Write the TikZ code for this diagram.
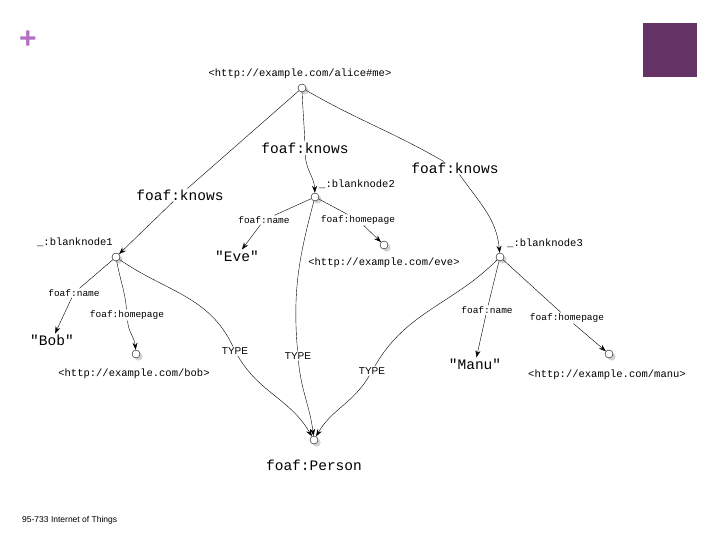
\documentclass[tikz,border=0pt]{standalone}
\usepackage{fontspec}
\setmainfont{Liberation Sans}
\newfontfamily\monofont{Liberation Mono}
\usetikzlibrary{arrows.meta,shadows}
\definecolor{plum}{HTML}{663366}
\definecolor{lilac}{HTML}{B46EC4}
\begin{document}
\begin{tikzpicture}[x=1pt,y=-1pt,>={Stealth[length=7pt,width=5pt]}]

% Styles
\tikzset{
  res/.style={draw, circle, fill=white, inner sep=0pt, minimum size=8pt, drop shadow={opacity=0.35}},
  big/.style={font=\monofont\fontsize{14.5}{14.5}\selectfont, inner sep=1pt},
  small/.style={font=\monofont\fontsize{9.5}{9.5}\selectfont, inner sep=1pt},
  uri/.style={font=\monofont\fontsize{10.5}{10.5}\selectfont, inner sep=1pt},
  typ/.style={font=\fontsize{10}{10}\selectfont, inner sep=1pt},
  edge/.style={thin}
}
\useasboundingbox (0,0) rectangle (720,540);

% Slide decorations
\fill[plum] (643,23) rectangle (697,77);
\node[font=\bfseries\fontsize{30}{30}\selectfont, text=lilac] (plus) at (28,40) {+};
\node[font=\fontsize{8.5}{8.5}\selectfont, anchor=west, inner sep=0pt] (foot) at (22,520) {95-733 Internet of Things};

% Resource nodes
\node[res] (alice) at (302,88) {};
\node[res] (bn2) at (315,197) {};
\node[res] (bn1) at (116,257) {};
\node[res] (bn3) at (500,257) {};
\node[res] (evehp) at (384,245) {};
\node[res] (bobhp) at (136,354) {};
\node[res] (manuhp) at (609,354) {};
\node[res] (person) at (314,440) {};

% Node texts
\node[uri] (alicet) at (300,74) {<http://example.com/alice\#me>};
\node[uri, anchor=west] (bn2t) at (318,184) {\_:blanknode2};
\node[uri, anchor=east] (bn1t) at (114,242) {\_:blanknode1};
\node[uri, anchor=west] (bn3t) at (506,243) {\_:blanknode3};
\node[uri] (evet) at (384,263) {<http://example.com/eve>};
\node[uri] (bobt) at (134,374) {<http://example.com/bob>};
\node[uri] (manut) at (607,375) {<http://example.com/manu>};
\node[big] (persont) at (314,465) {foaf:Person};

% Literals
\node[big] (eve) at (237,256) {"Eve"};
\node[big] (bob) at (52,340) {"Bob"};
\node[big] (manu) at (475,364) {"Manu"};

% Edge labels
\node[big] (k1) at (180,195) {foaf:knows};
\node[big] (k2) at (305,148) {foaf:knows};
\node[big] (k3) at (455,168) {foaf:knows};
\node[small] (n2) at (264,220) {foaf:name};
\node[small] (h2) at (358,220) {foaf:homepage};
\node[small] (n1) at (74,293) {foaf:name};
\node[small] (h1) at (127,315) {foaf:homepage};
\node[small] (n3) at (487,310) {foaf:name};
\node[small] (h3) at (567,318) {foaf:homepage};
\node[typ] (t1) at (235,351) {TYPE};
\node[typ] (t2) at (298,356) {TYPE};
\node[typ] (t3) at (372,371) {TYPE};

% foaf:knows
\draw[edge] (alice) -- (k1);
\draw[edge, ->] (k1) -- (bn1);
\draw[edge] (alice) to[out=-88,in=92] (k2);
\draw[edge, ->] (k2) to[out=-88,in=92] (bn2);
\draw[edge] (alice) to[out=-30,in=150] (k3);
\draw[edge, ->] (k3) to[out=-55,in=95] (bn3);

% blanknode2
\draw[edge] (bn2) -- (n2);
\draw[edge, ->] (n2) -- (eve);
\draw[edge] (bn2) -- (h2);
\draw[edge, ->] (h2) -- (evehp);
\draw[edge] (bn2) to[out=-105,in=95] (t2);
\draw[edge, ->] (t2) to[out=-85,in=97] (person);

% blanknode1
\draw[edge] (bn1) -- (n1);
\draw[edge, ->] (n1) -- (bob);
\draw[edge] (bn1) to[out=-80,in=95] (h1);
\draw[edge, ->] (h1) to[out=-85,in=95] (bobhp);
\draw[edge] (bn1) to[out=-35,in=115] (t1);
\draw[edge, ->] (t1) to[out=-60,in=120] (person);

% blanknode3
\draw[edge] (bn3) -- (n3);
\draw[edge, ->] (n3) -- (manu);
\draw[edge] (bn3) -- (h3);
\draw[edge, ->] (h3) -- (manuhp);
\draw[edge] (bn3) to[out=-135,in=60] (t3);
\draw[edge, ->] (t3) to[out=-120,in=60] (person);

\end{tikzpicture}
\end{document}
